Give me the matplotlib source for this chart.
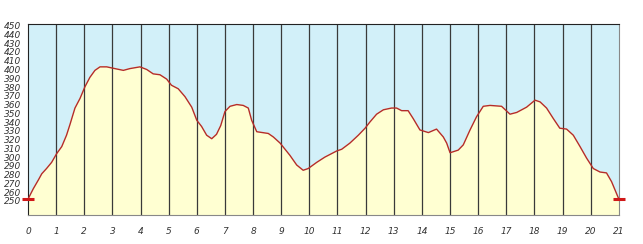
import matplotlib.pyplot as plt
import numpy as np

# elevation profile, distance in km / height in m
dist = [0.0, 0.19, 0.37, 0.49, 0.66, 0.84, 1.02, 1.2, 1.37, 1.49, 1.67, 1.85, 2.02, 2.2, 2.38,
        2.56, 2.8, 3.09, 3.39, 3.62, 3.98, 4.22, 4.45, 4.69, 4.93, 5.1, 5.34, 5.58, 5.82,
        6.0, 6.17, 6.35, 6.53, 6.7, 6.85, 7.0, 7.18, 7.42, 7.65, 7.83, 7.95, 8.13, 8.54,
        8.72, 8.96, 9.31, 9.55, 9.78, 9.96, 10.26, 10.55, 10.79, 10.97, 11.15, 11.44,
        11.74, 11.98, 12.15, 12.39, 12.63, 12.92, 13.1, 13.28, 13.51, 13.69, 13.93, 14.23,
        14.52, 14.76, 14.88, 15.0, 15.29, 15.47, 15.71, 15.94, 16.18, 16.42, 16.83, 17.13,
        17.37, 17.72, 18.02, 18.2, 18.43, 18.67, 18.9, 19.14, 19.38, 19.62, 19.85, 20.09,
        20.33, 20.56, 20.74, 21.0]
elev = [252, 264, 274, 281, 287, 294, 304, 312, 325, 337, 356, 367, 380, 391, 399,
        403, 403, 401, 399, 401, 403, 400, 395, 394, 389, 382, 378, 369, 357,
        342, 335, 325, 321, 326, 336, 352, 358, 360, 359, 356, 342, 329, 327,
        323, 316, 302, 291, 285, 287, 294, 300, 304, 307, 309, 316,
        325, 333, 340, 349, 354, 356, 356, 353, 353, 344, 331, 328,
        332, 323, 316, 305, 308, 314, 331, 346, 358, 359, 358, 349,
        351, 357, 365, 363, 356, 344, 333, 332, 325, 312, 299, 287,
        283, 282, 272, 252]

x_ticks = list(range(0, 22))
y_ticks = list(range(250, 451, 10))

fig = plt.figure(figsize=(6.43, 2.44), dpi=100)
ax = fig.add_axes([0.0435, 0.119, 0.919, 0.783])
ax.set_facecolor('#d2f0f9')
ax.fill_between(dist, 0, elev, color='#ffffd2', zorder=1)
for k in x_ticks[1:-1]:
    ax.axvline(k, color='#3a3a3a', linewidth=0.9, zorder=2)
ax.plot(dist, elev, color='#b32c2c', linewidth=1.0, zorder=3)
ax.plot([dist[0], dist[-1]], [elev[0], elev[-1]], linestyle='none', marker='_',
        markersize=9, markeredgewidth=2.2, color='#d01818', zorder=4, clip_on=False)

ax.set_xlim(0, 21)
ax.set_ylim(234, 452)
ax.set_xticks(x_ticks)
ax.set_yticks(y_ticks)
ax.tick_params(length=0, labelsize=6.5, labelcolor='#333333')
ax.tick_params(axis='x', pad=9)
ax.tick_params(axis='y', pad=5)
for lab in ax.get_xticklabels() + ax.get_yticklabels():
    lab.set_fontstyle('italic')
ax.spines['top'].set_color('#222222')
ax.spines['left'].set_color('#222222')
ax.spines['right'].set_color('#888888')
ax.spines['bottom'].set_color('#888888')

plt.savefig('out.png', dpi=100)
